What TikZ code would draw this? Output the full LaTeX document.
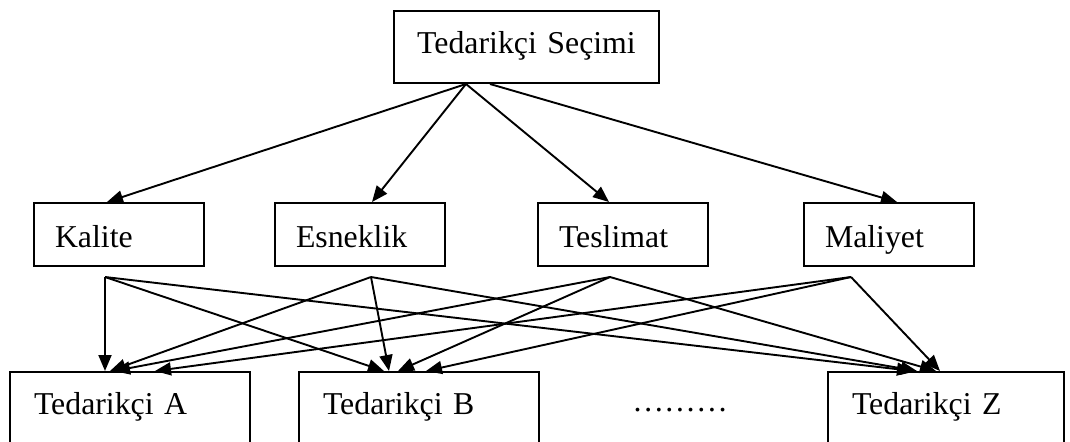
\documentclass[tikz,border=0pt]{standalone}
\usepackage{fontspec}
\setmainfont{Liberation Serif}
\usetikzlibrary{arrows.meta,calc}
\tikzset{
  box/.style={draw, line width=1pt, inner ysep=0pt, anchor=north west,
    font=\fontsize{15.9}{18}\selectfont},
  goal/.style={box, inner xsep=4pt, text width=124.5pt, align=center,
    text height=21pt, text depth=15pt},
  crit/.style={box, inner xsep=10.5pt, text width=64pt, align=left,
    text height=22pt, text depth=9.5pt},
  supp/.style={box, inner xsep=12pt, text width=96pt, align=left,
    text height=21pt, text depth=29pt},
  conn/.style={line width=0.95pt, -{Triangle[length=8pt,width=6.5pt]}},
}
\begin{document}
\begin{tikzpicture}[x=0.5pt,y=-0.5pt]
\clip (0,0) rectangle (1070,441);
\fill[white] (0,0) rectangle (1070,441);

% goal
\node[goal] (sec) at (393,10) {Tedarikçi Seçimi};

% criteria
\node[crit] (kal) at (33,202)  {Kalite};
\node[crit] (esn) at (274,202) {Esneklik};
\node[crit] (tes) at (537,202) {Teslimat};
\node[crit] (mal) at (803,202) {Maliyet};

% alternatives
\node[supp] (sa) at (9,371)   {Tedarikçi A};
\node[supp] (sb) at (298,371) {Tedarikçi B};
\node[supp, text width=94pt] (sz) at (827,371) {Tedarikçi Z};
\node[anchor=base west, inner sep=0pt, font=\fontsize{15.9}{18}\selectfont]
  (dots) at (632,411) {………};

% goal -> criteria
\draw[conn] ($(sec.south west)+(73,0)$) -- ($(kal.north west)+(74,0)$);
\draw[conn] ($(sec.south west)+(73,0)$) -- ($(esn.north west)+(98,0)$);
\draw[conn] ($(sec.south west)+(73,0)$) -- ($(tes.north west)+(72,0)$);
\draw[conn] ($(sec.south west)+(97,0)$) -- ($(mal.north west)+(94,0)$);

% criteria -> alternatives
\coordinate (kq) at ($(kal.south west)+(72,10)$);
\coordinate (eq) at ($(esn.south west)+(97,10)$);
\coordinate (tq) at ($(tes.south west)+(73,10)$);
\coordinate (mq) at ($(mal.south west)+(48,10)$);

\draw[conn] (kq) -- ($(sa.north west)+(96,0)$);
\draw[conn] (kq) -- ($(sb.north west)+(86,0)$);
\draw[conn] (kq) -- ($(sz.north west)+(86,0)$);

\draw[conn] (eq) -- ($(sa.north west)+(101,0)$);
\draw[conn] (eq) -- ($(sb.north west)+(91,0)$);
\draw[conn] (eq) -- ($(sz.north west)+(90,0)$);

\draw[conn] (tq) -- ($(sa.north west)+(105,0)$);
\draw[conn] (tq) -- ($(sb.north west)+(100,0)$);
\draw[conn] (tq) -- ($(sz.north west)+(109,0)$);

\draw[conn] (mq) -- ($(sa.north west)+(146,0)$);
\draw[conn] (mq) -- ($(sb.north west)+(128,0)$);
\draw[conn] (mq) -- ($(sz.north west)+(113,0)$);
\end{tikzpicture}
\end{document}
